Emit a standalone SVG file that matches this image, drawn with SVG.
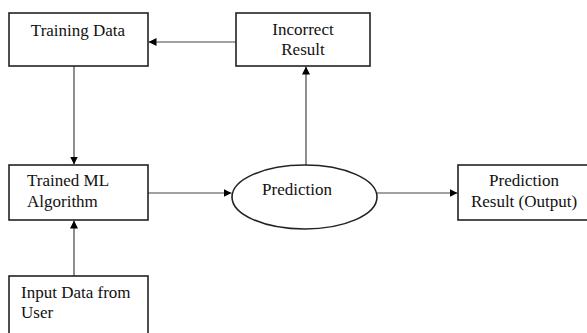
<svg xmlns="http://www.w3.org/2000/svg" width="587" height="333" viewBox="0 0 587 333">
<style>
.box{fill:#fff;stroke:#222;stroke-width:1.6}
.t{font-family:"Liberation Serif","Times New Roman",serif;font-size:17px;fill:#111}
.c{text-anchor:middle}
.ln{stroke:#444;stroke-width:1.2;fill:none;marker-end:url(#ah)}
</style>
<defs>
<marker id="ah" viewBox="0 0 10 10" refX="10" refY="5" markerWidth="8" markerHeight="8" markerUnits="userSpaceOnUse" orient="auto">
<path d="M0,0 L10,5 L0,10 z" fill="#000"/>
</marker>
</defs>
<g id="connectors">
<line class="ln" x1="236" y1="42" x2="148.5" y2="42"/>
<line class="ln" x1="74" y1="66" x2="74" y2="164.5"/>
<line class="ln" x1="74" y1="276" x2="74" y2="220.5"/>
<line class="ln" x1="148" y1="193" x2="231.5" y2="193"/>
<line class="ln" x1="306" y1="165" x2="306" y2="66.5"/>
<line class="ln" x1="377" y1="193" x2="457.5" y2="193"/>
</g>
<g id="training-data">
<rect class="box" x="9" y="13" width="139" height="53"/>
<text class="t c" x="78" y="36">Training Data</text>
</g>
<g id="incorrect-result">
<rect class="box" x="236" y="13" width="134" height="53"/>
<text class="t c" x="303" y="35">Incorrect</text>
<text class="t c" x="303" y="55">Result</text>
</g>
<g id="trained-ml">
<rect class="box" x="9" y="165" width="139" height="55"/>
<text class="t" x="27" y="186">Trained ML</text>
<text class="t" x="27" y="207">Algorithm</text>
</g>
<g id="input-data">
<rect class="box" x="9" y="276" width="139" height="70"/>
<text class="t" x="21" y="298">Input Data from</text>
<text class="t" x="21" y="318">User</text>
</g>
<g id="prediction">
<ellipse class="box" cx="304.5" cy="197" rx="72.5" ry="32"/>
<text class="t c" x="297" y="195">Prediction</text>
</g>
<g id="prediction-result">
<rect class="box" x="458" y="165" width="135" height="55"/>
<text class="t c" x="524" y="186">Prediction</text>
<text class="t c" x="524" y="207">Result (Output)</text>
</g>
</svg>
